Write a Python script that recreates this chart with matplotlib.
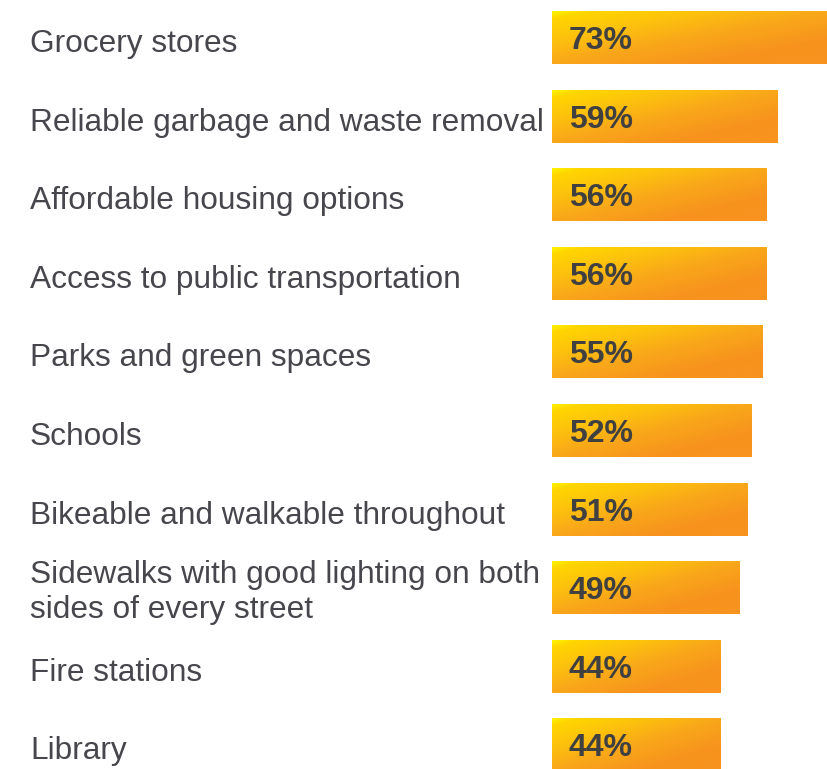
import numpy as np
import matplotlib
matplotlib.use("Agg")
import matplotlib.pyplot as plt
from matplotlib.colors import LinearSegmentedColormap

categories = [
    "Grocery stores",
    "Reliable garbage and waste removal",
    "Affordable housing options",
    "Access to public transportation",
    "Parks and green spaces",
    "Schools",
    "Bikeable and walkable throughout",
    "Sidewalks with good lighting on both\nsides of every street",
    "Fire stations",
    "Library",
]
values = [73, 59, 56, 56, 55, 52, 51, 49, 44, 44]
value_labels = [f"{v}%" for v in values]

W, H, DPI = 828, 769, 100
fig = plt.figure(figsize=(W / DPI, H / DPI), dpi=DPI)
fig.patch.set_facecolor("white")

left_px = 552
ax = fig.add_axes([left_px / W, 0, 1 - left_px / W, 1])
ax.set_xlim(0, 276 / 3.83)
spacing = 78.6
ax.set_ylim((H - 37.5) / spacing, -37.5 / spacing)
ax.axis("off")

cmap = LinearSegmentedColormap.from_list(
    "yo", [(0.0, "#FFF200"), (0.08, "#FFD600"), (0.3, "#FDC40C"),
           (0.6, "#F9A71A"), (0.9, "#F7941D"), (1.0, "#F7931E")]
)

ypos = np.arange(len(values))
bars = ax.barh(ypos, values, height=0.674, color="none", edgecolor="none")

nu, nv = 200, 40
u = np.linspace(0, 1, nu)[None, :]
v = np.linspace(0, 1, nv)[:, None]
grad = np.clip(0.6 * u + 0.6 * v, 0, 1)

for bar in bars:
    x0, y0 = bar.get_x(), bar.get_y()
    w, h = bar.get_width(), bar.get_height()
    im = ax.imshow(grad, cmap=cmap, vmin=0, vmax=1, aspect="auto",
                   extent=(x0, x0 + w, y0 + h, y0), interpolation="bilinear", zorder=2)
    im.set_clip_path(bar)

for y, lab in zip(ypos, value_labels):
    ax.annotate(lab, xy=(0, y), xytext=(17, -11.5), textcoords="offset pixels",
                ha="left", va="baseline", fontsize=23, fontweight="bold",
                color="#404040", family="Liberation Sans", zorder=3)

for y, cat in zip(ypos, categories):
    ypix = 37.5 + spacing * y
    ypix += 30.5 if "\n" in cat else 14.5
    fig.text(30 / W, 1 - ypix / H, cat, ha="left", va="baseline", fontsize=22.8,
             color="#46464C", family="Liberation Sans", linespacing=1.22)

fig.savefig("out.png", dpi=DPI, facecolor="white")
